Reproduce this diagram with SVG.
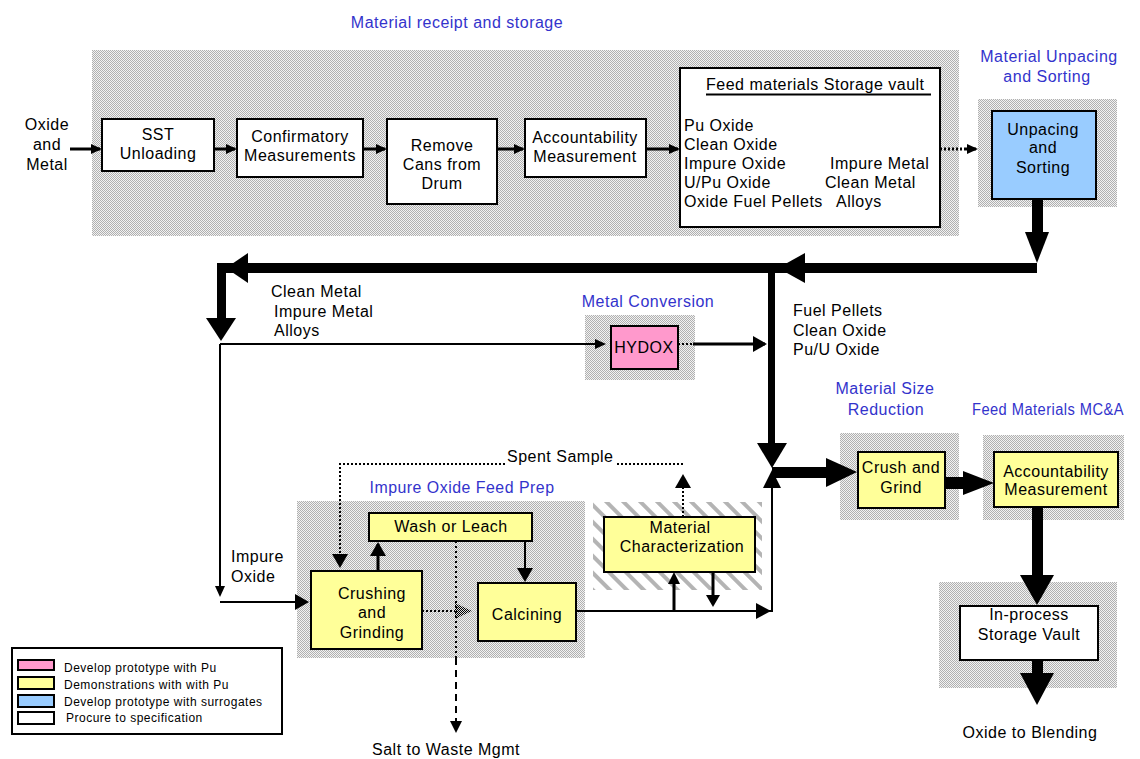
<svg xmlns="http://www.w3.org/2000/svg" width="1140" height="759" viewBox="0 0 1140 759">
<style>
text{font-family:"Liberation Sans",Arial,sans-serif;font-size:16px;letter-spacing:0.5px;fill:#000}
.c{text-anchor:middle}
.blue{fill:#3333cc}
.leg{font-size:12px}
.box{stroke:#000;stroke-width:2}
.w{fill:#fff}
.y{fill:#ffff99}
.p{fill:#ff99cc}
.b{fill:#99ccff}
.ln{stroke:#000;fill:none;stroke-width:3}
.thin{stroke:#000;fill:none;stroke-width:2}
.dot{stroke:#000;fill:none;stroke-width:2;stroke-dasharray:2 2}
.k{fill:#000}
</style>
<defs>
<pattern id="stip" width="2" height="2" patternUnits="userSpaceOnUse">
<rect width="2" height="2" fill="#f2f2f2"/><rect width="1" height="1" fill="#b0b0b0"/><rect x="1" y="1" width="1" height="1" fill="#b0b0b0"/>
</pattern>
<pattern id="hatch" width="12" height="12" patternUnits="userSpaceOnUse" patternTransform="rotate(-45)">
<rect width="12" height="12" fill="#fff"/><rect width="4" height="12" fill="#b4b4b4"/>
</pattern>
<pattern id="darkstip" width="2" height="2" patternUnits="userSpaceOnUse">
<rect width="2" height="2" fill="#ddd"/><rect width="1" height="1" fill="#000"/><rect x="1" y="1" width="1" height="1" fill="#000"/>
</pattern>
<marker id="a" markerUnits="userSpaceOnUse" markerWidth="11" markerHeight="10" refX="9" refY="5" orient="auto">
<path d="M0,0 L11,5 L0,10 z" fill="#000"/>
</marker>
<marker id="a2" markerUnits="userSpaceOnUse" markerWidth="14" markerHeight="16" refX="12" refY="8" orient="auto">
<path d="M0,0 L14,8 L0,16 z" fill="#000"/>
</marker>
</defs>

<rect width="1140" height="759" fill="#fff"/>

<g id="areas">
<rect x="92" y="50" width="867" height="186" fill="url(#stip)"/>
<rect x="978" y="99" width="139" height="108" fill="url(#stip)"/>
<rect x="585" y="315" width="110" height="65" fill="url(#stip)"/>
<rect x="297" y="501" width="288" height="157" fill="url(#stip)"/>
<rect x="593" y="502" width="169" height="88" fill="url(#hatch)"/>
<rect x="840" y="433" width="119" height="87" fill="url(#stip)"/>
<rect x="983" y="435" width="141" height="85" fill="url(#stip)"/>
<rect x="939" y="582" width="178" height="106" fill="url(#stip)"/>
</g>

<g id="labels">
<text class="c blue" x="457" y="28">Material receipt and storage</text>
<text class="c blue" x="1049" y="62">Material Unpacing</text>
<text class="c blue" x="1047" y="82">and Sorting</text>
<text class="c blue" x="648" y="307">Metal Conversion</text>
<text class="c blue" x="885" y="394">Material Size</text>
<text class="c blue" x="886" y="415">Reduction</text>
<text class="blue" x="972" y="415" textLength="152" lengthAdjust="spacingAndGlyphs">Feed Materials MC&amp;A</text>
<text class="c blue" x="462" y="493" textLength="185" lengthAdjust="spacingAndGlyphs">Impure Oxide Feed Prep</text>
<text class="c" x="47" y="130">Oxide</text>
<text class="c" x="47" y="150">and</text>
<text class="c" x="47" y="170">Metal</text>
<text x="271" y="297">Clean Metal</text>
<text x="274" y="317">Impure Metal</text>
<text x="274" y="336">Alloys</text>
<text x="793" y="316">Fuel Pellets</text>
<text x="793" y="336">Clean Oxide</text>
<text x="793" y="355">Pu/U Oxide</text>
<text x="231" y="562">Impure</text>
<text x="231" y="582">Oxide</text>
<text x="507" y="462">Spent Sample</text>
<text class="c" x="446" y="755">Salt to Waste Mgmt</text>
<text class="c" x="1030" y="738">Oxide to Blending</text>
</g>

<g id="connectors">
<path class="ln" d="M70,149 H100" marker-end="url(#a)"/>
<path class="ln" d="M214,149 H235" marker-end="url(#a)"/>
<path class="ln" d="M363,149 H385" marker-end="url(#a)"/>
<path class="ln" d="M497,149 H523" marker-end="url(#a)"/>
<path class="ln" d="M645,149 H678" marker-end="url(#a)"/>
<path class="ln" d="M940,149 H966" stroke-dasharray="2 2"/>
<path class="ln" d="M966,149 H976" marker-end="url(#a)"/>
<rect class="k" x="1032" y="199" width="11" height="34"/>
<polygon class="k" points="1025,232 1049,232 1037,263"/>
<rect class="k" x="217" y="263" width="820" height="10"/>
<polygon class="k" points="805,253 805,283 778,268"/>
<polygon class="k" points="248,253 248,283 226,268"/>
<rect class="k" x="217" y="263" width="9" height="56"/>
<polygon class="k" points="206,318 236,318 221,341"/>
<rect class="k" x="768" y="268" width="7" height="176"/>
<polygon class="k" points="757,443 787,443 772,468"/>
<path class="thin" d="M220,344 H604" marker-end="url(#a)"/>
<path class="dot" d="M678,344 H693" stroke-width="3"/>
<path class="ln" d="M693,344 H765" marker-end="url(#a2)"/>
<path class="thin" d="M220,344 V595" marker-end="url(#a)"/>
<path class="thin" d="M220,602 H307" marker-end="url(#a2)"/>
<path class="dot" d="M683,517 V476" marker-end="url(#a2)"/>
<path class="dot" d="M683,464 H617"/>
<path class="dot" d="M505,464 H340 V566" marker-end="url(#a2)"/>
<path class="ln" d="M378,571 V544" marker-end="url(#a2)"/>
<path class="thin" d="M525,541 V580" marker-end="url(#a2)"/>
<path class="dot" d="M422,611 H456"/>
<polygon fill="url(#darkstip)" points="455,603 455,619 472,611"/>
<path class="thin" d="M456,541 V658" stroke-dasharray="2 3"/>
<path class="thin" d="M456,658 V722" stroke-dasharray="7 5"/>
<polygon class="k" points="450,721 462,721 456,733"/>
<path class="thin" d="M576,611 H772 V487"/>
<polygon class="k" points="756,603 756,619 771,611"/>
<polygon class="k" points="763,488 781,488 772,470"/>
<path class="ln" d="M674,611 V582" stroke-width="4"/>
<polygon class="k" points="668,584 680,584 674,572"/>
<path class="ln" d="M713,572 V596" stroke-width="4"/>
<polygon class="k" points="706,595 720,595 713,607"/>
<rect class="k" x="772" y="467" width="55" height="11"/>
<polygon class="k" points="826,458 826,487 857,472"/>
<rect class="k" x="945" y="477" width="20" height="12"/>
<polygon class="k" points="963,471 963,495 994,483"/>
<rect class="k" x="1032" y="507" width="11" height="69"/>
<polygon class="k" points="1020,575 1054,575 1037,605"/>
<rect class="k" x="1032" y="660" width="11" height="14"/>
<polygon class="k" points="1020,673 1054,673 1037,705"/>
</g>

<g id="sst">
<rect class="box w" x="102" y="119" width="112" height="52"/>
<text class="c" x="158" y="140">SST</text>
<text class="c" x="158" y="159">Unloading</text>
</g>
<g id="confirmatory">
<rect class="box w" x="237" y="119" width="126" height="58"/>
<text class="c" x="300" y="142">Confirmatory</text>
<text class="c" x="300" y="161">Measurements</text>
</g>
<g id="remove">
<rect class="box w" x="387" y="119" width="110" height="85"/>
<text class="c" x="442" y="151">Remove</text>
<text class="c" x="442" y="170">Cans from</text>
<text class="c" x="442" y="189">Drum</text>
</g>
<g id="accountability1">
<rect class="box w" x="525" y="119" width="121" height="58"/>
<text class="c" x="585" y="143">Accountability</text>
<text class="c" x="585" y="162">Measurement</text>
</g>
<g id="vault">
<rect class="box w" x="680" y="68" width="260" height="159"/>
<text x="706" y="90">Feed materials Storage vault</text>
<line x1="706" y1="94.5" x2="931" y2="94.5" stroke="#000" stroke-width="2"/>
<text x="684" y="131">Pu Oxide</text>
<text x="684" y="150">Clean Oxide</text>
<text x="684" y="169">Impure Oxide</text>
<text x="684" y="188">U/Pu Oxide</text>
<text x="684" y="207">Oxide Fuel Pellets</text>
<text x="830" y="169">Impure Metal</text>
<text x="825" y="188">Clean Metal</text>
<text x="836" y="207">Alloys</text>
</g>
<g id="unpacking">
<rect class="box b" x="992" y="111" width="104" height="88"/>
<text class="c" x="1043" y="135">Unpacing</text>
<text class="c" x="1043" y="153">and</text>
<text class="c" x="1043" y="173">Sorting</text>
</g>
<g id="hydox">
<rect class="box p" x="611" y="326" width="67" height="43"/>
<text class="c" x="644" y="353">HYDOX</text>
</g>
<g id="wash">
<rect class="box y" x="369" y="513" width="163" height="28"/>
<text class="c" x="451" y="532">Wash or Leach</text>
</g>
<g id="crushing">
<rect class="box y" x="311" y="571" width="111" height="78"/>
<text class="c" x="372" y="599">Crushing</text>
<text class="c" x="372" y="618">and</text>
<text class="c" x="372" y="638">Grinding</text>
</g>
<g id="calcining">
<rect class="box y" x="478" y="583" width="98" height="58"/>
<text class="c" x="527" y="620">Calcining</text>
</g>
<g id="characterization">
<rect class="box y" x="604" y="517" width="151" height="55"/>
<text class="c" x="680" y="533">Material</text>
<text class="c" x="682" y="552">Characterization</text>
</g>
<g id="crushgrind">
<rect class="box y" x="858" y="452" width="87" height="56"/>
<text class="c" x="901" y="473">Crush and</text>
<text class="c" x="901" y="493">Grind</text>
</g>
<g id="accountability2">
<rect class="box y" x="994" y="452" width="124" height="55"/>
<text class="c" x="1056" y="477">Accountability</text>
<text class="c" x="1056" y="495">Measurement</text>
</g>
<g id="inprocess">
<rect class="box w" x="960" y="606" width="138" height="54"/>
<text class="c" x="1029" y="620">In-process</text>
<text class="c" x="1029" y="640">Storage Vault</text>
</g>

<g id="legend">
<rect x="12" y="648" width="270" height="86" fill="#fff" stroke="#000" stroke-width="2"/>
<rect class="box p" x="18" y="660" width="36" height="10"/>
<rect class="box y" x="18" y="677" width="36" height="12"/>
<rect class="box b" x="18" y="695" width="36" height="12"/>
<rect class="box w" x="18" y="712" width="36" height="12"/>
<text class="leg" x="64" y="672">Develop prototype with Pu</text>
<text class="leg" x="64" y="689">Demonstrations with with Pu</text>
<text class="leg" x="64" y="706">Develop prototype with surrogates</text>
<text class="leg" x="66" y="722">Procure to specification</text>
</g>
</svg>
